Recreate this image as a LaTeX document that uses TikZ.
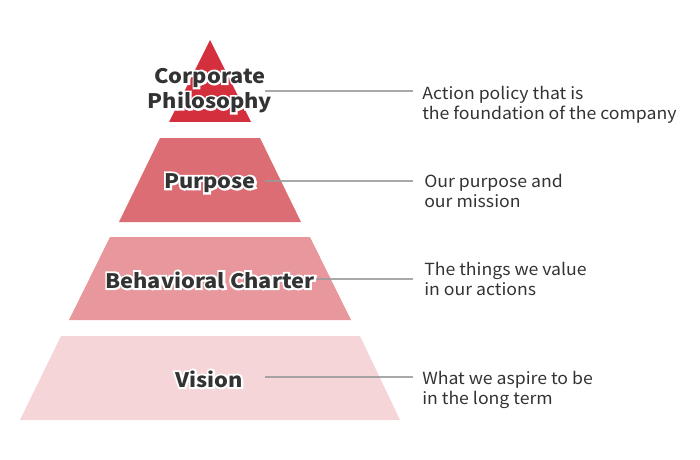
\documentclass[tikz,border=0pt]{standalone}
\usepackage{fontspec}
\newfontfamily\jp{Noto Sans CJK JP}
\newfontfamily\jplbl[FakeStretch=1.09]{Noto Sans CJK JP}
\newfontfamily\jphalo[FakeStretch=1.09,FakeBold=20]{Noto Sans CJK JP}
\newfontfamily\jpdesc[FakeStretch=1.06]{Noto Sans CJK JP}
\usetikzlibrary{calc}
\definecolor{tierA}{HTML}{D42F3D}
\definecolor{tierB}{HTML}{DD6D74}
\definecolor{tierC}{HTML}{E8979C}
\definecolor{tierD}{HTML}{F5D5D8}
\definecolor{txt}{HTML}{333333}
\definecolor{lineg}{HTML}{9A9A9A}
\newcommand{\halotext}[3]{%
  \node[lbl,font=\jphalo\bfseries\fontsize{15}{19}\selectfont,text=white] at (#1) {#3};%
  \node[lbl] (#2) at (#1) {#3};}
\begin{document}
\begin{tikzpicture}[x=0.75pt,y=-0.75pt,
  lbl/.style={font=\jplbl\bfseries\fontsize{15}{19}\selectfont,text=txt,align=center,inner sep=1pt},
  desc/.style={font=\jpdesc\fontsize{12.5}{15}\selectfont,text=txt,align=left,anchor=west,inner sep=0pt},
  conn/.style={draw=lineg,line width=2.2pt,opacity=0.85}]
\useasboundingbox (0,0) rectangle (700,460);
\fill[tierA] (210,40) -- (251,122) -- (169,122) -- cycle;
\fill[tierB] (160,138) -- (260,138) -- (301,222) -- (119,222) -- cycle;
\fill[tierC] (110,237) -- (310,237) -- (351,320) -- (69,320) -- cycle;
\fill[tierD] (61,336) -- (360,336) -- (400,420) -- (20,420) -- cycle;
% connector endpoints
\coordinate (s1) at (265,91); \coordinate (e1) at (413,91);
\coordinate (s2) at (265,181); \coordinate (e2) at (413,181);
\coordinate (s3) at (316,279); \coordinate (e3) at (413,279);
\coordinate (s4) at (265,377); \coordinate (e4) at (413,377);
\draw[conn] (s1) -- (e1);
\draw[conn] (s2) -- (e2);
\draw[conn] (s3) -- (e3);
\draw[conn] (s4) -- (e4);
\coordinate (p1) at (210,90.5);
\coordinate (p2) at (210,183);
\coordinate (p3) at (210,280);
\coordinate (p4) at (209,379);
\halotext{p1}{l1}{Corporate\\Philosophy}
\halotext{p2}{l2}{Purpose}
\halotext{p3}{l3}{Behavioral Charter}
\halotext{p4}{l4}{Vision}
\node[desc] (d1) at (422,105) {Action policy that is\\the foundation of the company};
\node[desc] (d2) at (424,191) {Our purpose and\\our mission};
\node[desc] (d3) at (424,279) {The things we value\\in our actions};
\node[desc] (d4) at (422,390) {What we aspire to be\\in the long term};
\end{tikzpicture}
\end{document}
